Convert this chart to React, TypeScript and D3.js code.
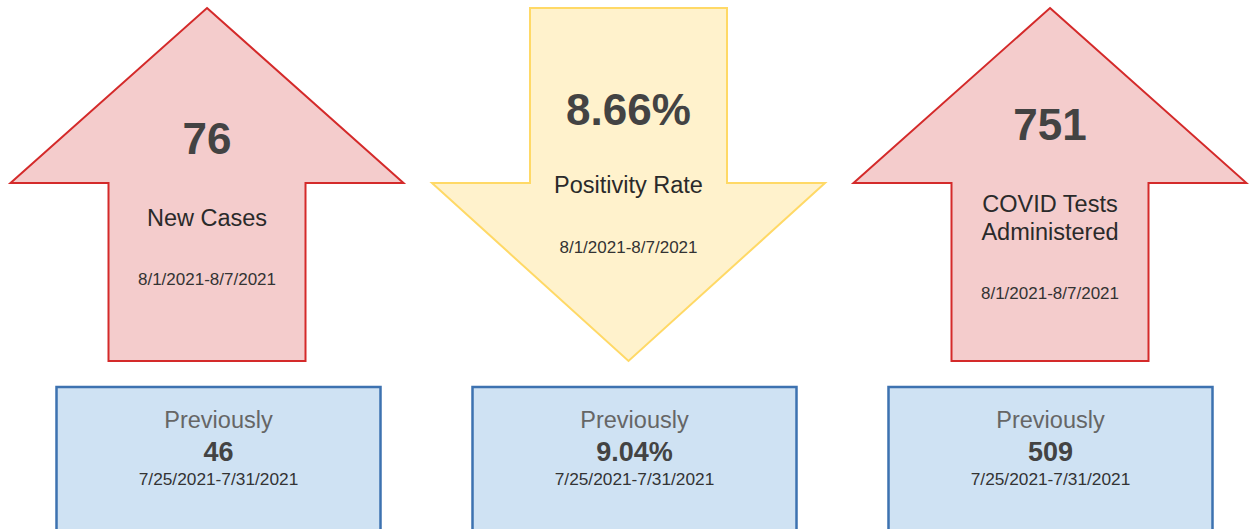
import * as d3 from 'd3';
import {useEffect, useRef} from 'react';

const width = 1249;
const height = 529;

// metric cards
const metrics = ['New Cases', 'Positivity Rate', 'COVID Tests Administered'];
const labelLines = [['New Cases'], ['Positivity Rate'], ['COVID Tests', 'Administered']];
const currentValues = ['76', '8.66%', '751'];
const previousValues = ['46', '9.04%', '509'];
const directions = ['up', 'down', 'up'];
const currentRange = '8/1/2021-8/7/2021';
const previousRange = '7/25/2021-7/31/2021';

const font = '"Liberation Sans", Arial, sans-serif';

function App() {
  const ref = useRef<HTMLDivElement>(null);

  useEffect(() => {
    const svg = d3
      .select(ref.current)
      .append('svg')
      .attr('width', width)
      .attr('height', height)
      .style('position', 'absolute')
      .style('left', '0px')
      .style('top', '0px')
      .style('background', '#fff');

    const xArrow = d3.scalePoint<string>().domain(metrics).range([207, 1050]);
    const xBox = d3.scalePoint<string>().domain(metrics).range([218.5, 1050.5]);
    // vertical layout of the arrow shapes
    const y = d3.scaleLinear().domain([0, 1]).range([8, 361]);
    const neck = 0.496; // wing line as fraction of arrow height
    const wing = 196.5;
    const shaft = 98.5;

    const line = d3.line<[number, number]>();

    metrics.forEach((m, i) => {
      const cx = xArrow(m)!;
      const up = directions[i] === 'up';
      let pts: [number, number][];
      if (up) {
        pts = [
          [cx, y(0)],
          [cx + wing, y(neck)],
          [cx + shaft, y(neck)],
          [cx + shaft, y(1)],
          [cx - shaft, y(1)],
          [cx - shaft, y(neck)],
          [cx - wing, y(neck)],
        ];
      } else {
        pts = [
          [cx - shaft, y(0)],
          [cx + shaft, y(0)],
          [cx + shaft, y(neck)],
          [cx + wing, y(neck)],
          [cx, y(1)],
          [cx - wing, y(neck)],
          [cx - shaft, y(neck)],
        ];
      }
      svg
        .append('path')
        .attr('d', line(pts) + 'Z')
        .attr('fill', up ? '#f4cccc' : '#fff2cc')
        .attr('stroke', up ? '#d42a2a' : '#ffd966')
        .attr('stroke-width', 2)
        .attr('stroke-linejoin', 'miter');

      const g = svg
        .append('g')
        .attr('font-family', font)
        .attr('text-anchor', 'middle')
        .attr('fill', '#434343');

      const lines = labelLines[i];
      const valueY = up ? (lines.length > 1 ? 140 : 154) : 125;
      g.append('text')
        .attr('x', cx)
        .attr('y', valueY)
        .attr('font-size', 44)
        .attr('font-weight', 'bold')
        .text(currentValues[i]);

      const labelY = up ? (lines.length > 1 ? 212 : 226) : 193;
      lines.forEach((t, j) => {
        g.append('text')
          .attr('x', cx)
          .attr('y', labelY + j * 28)
          .attr('font-size', 23.5)
          .attr('fill', '#2a2a2a')
          .text(t);
      });

      const dateY = up ? (lines.length > 1 ? 299 : 285) : 253;
      g.append('text')
        .attr('x', cx)
        .attr('y', dateY)
        .attr('font-size', 17)
        .attr('fill', '#333')
        .text(currentRange);

      // previous period box
      const bx = xBox(m)!;
      svg
        .append('rect')
        .attr('x', bx - 162)
        .attr('y', 387)
        .attr('width', 324)
        .attr('height', 170)
        .attr('fill', '#cfe2f3')
        .attr('stroke', '#3d72b0')
        .attr('stroke-width', 2.5);

      const b = svg
        .append('g')
        .attr('font-family', font)
        .attr('text-anchor', 'middle');
      b.append('text')
        .attr('x', bx)
        .attr('y', 428)
        .attr('font-size', 23.5)
        .attr('fill', '#666')
        .text('Previously');
      b.append('text')
        .attr('x', bx)
        .attr('y', 461)
        .attr('font-size', 27)
        .attr('font-weight', 'bold')
        .attr('fill', '#434343')
        .text(previousValues[i]);
      b.append('text')
        .attr('x', bx)
        .attr('y', 485)
        .attr('font-size', 17.3)
        .attr('fill', '#333')
        .text(previousRange);
    });

    return () => {
      svg.remove();
    };
  }, []);

  return <div ref={ref}></div>;
}

export default App;
